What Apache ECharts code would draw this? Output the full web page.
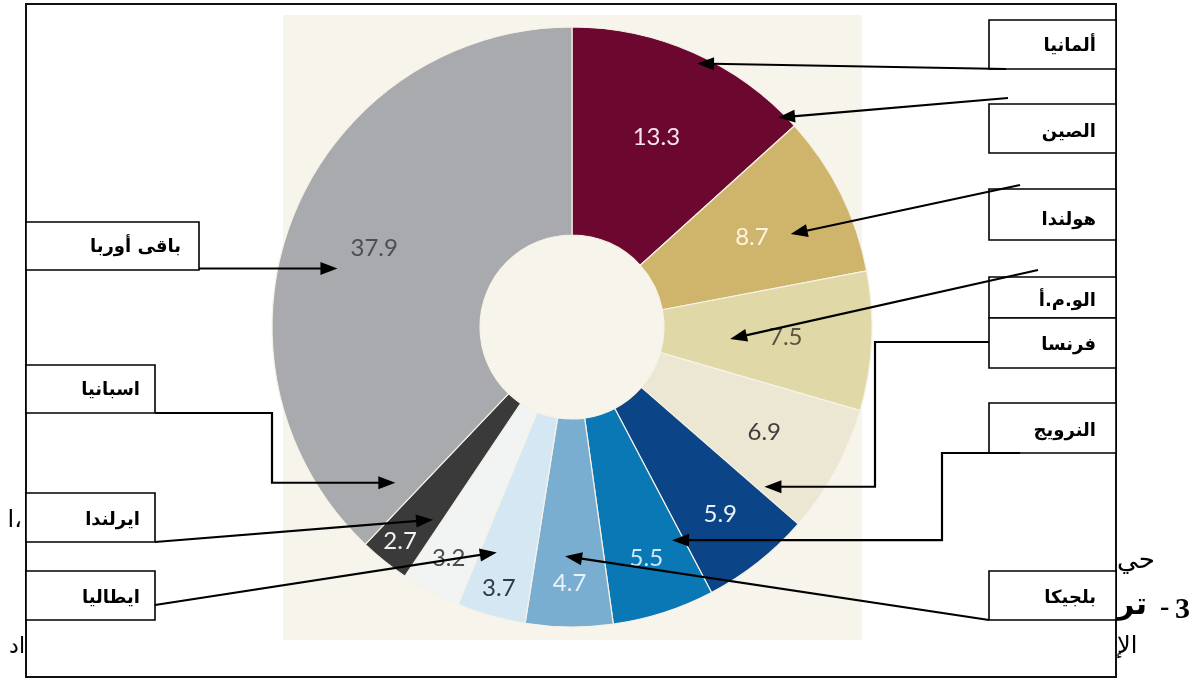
<!DOCTYPE html>
<html><head><meta charset="utf-8">
<script src="https://cdn.jsdelivr.net/npm/echarts@6/dist/echarts.min.js"></script>
<style>html,body{margin:0;padding:0;background:#fff}#c{width:1197px;height:680px}</style>
</head><body><div id="c"></div>
<script>
// ---------- DATA ----------
const sliceNames = ['ألمانيا','الصين','هولندا','الو.م.أ','فرنسا','النرويج','بلجيكا','ايطاليا','ايرلندا','اسبانيا','باقى أوربا'];
const sliceValues = [13.3, 8.7, 7.5, 6.9, 5.9, 5.5, 4.7, 3.7, 3.2, 2.7, 37.9];
const annoTexts = ['ألمانيا','الصين','هولندا','الو.م.أ','فرنسا','النرويج','بلجيكا','ايطاليا','ايرلندا','اسبانيا','باقى أوربا'];
const annoTargetSlice = [0, 0, 1, 2, 3, 5, 6, 7, 9, 10, 10];

// ---------- STYLE / LAYOUT ----------
const sliceColors = ['#6c0730','#cfb46c','#e0d9a7','#ebe7d3','#0b4587','#0a78b4','#79aed0','#d5e7f3','#f1f4f2','#3a3a3a','#a8aaad'];
const valueLabelColors = ['#f4e8ec','#fbf4e0','#55553f','#3f3f3f','#eef3fa','#cfe8f5','#e8f2fa','#2f3a45','#4a4a4a','#f2f2f2','#4b4e52'];
const PIE_CENTER = [572, 327];
const PIE_RADIUS = [92, 300];
const labelRadius = [208, 201, 214, 219, 239, 243, 256, 271, 262, 275, 213];
const annoAngleFrac = [0.53, 0.93, 0.61, 0.56, 0.946, 0.13, 0.57, 0.71, 0.2, 0.037, 0.443];
const annoRadiusFrac = [0.96, 0.97, 0.70, 0.32, 0.76, 0.69, 0.66, 0.70, 0.70, 0.69, 0.72];
// boxes: [x, y, w, h, textRightX, textY]
const annoBoxes = [
  [989, 20, 127, 49, 1096, 46],
  [989, 104, 127, 49, 1096, 132],
  [989, 189, 127, 51, 1096, 220],
  [989, 277, 127, 41, 1096, 301],
  [989, 318, 127, 50, 1096, 345],
  [989, 403, 127, 50, 1096, 431],
  [989, 571, 127, 49, 1096, 598],
  [26, 571, 129, 49, 140, 598],
  [26, 493, 129, 49, 140, 520],
  [26, 365, 129, 48, 140, 390],
  [26, 222, 173, 48, 181, 247]
];
const annoPaths = [
  [[1006, 69]],
  [[1008, 98]],
  [[1020, 185]],
  [[1038, 270]],
  [[989, 342], [875, 342], [875, 'tip']],
  [[1020, 453], [942, 453], [942, 'tip']],
  [[989, 620]],
  [[155, 605]],
  [[155, 542]],
  [[155, 413], [272, 413], [272, 'tip']],
  [[199, 'tip']]
];

const total = sliceValues.reduce((a, b) => a + b, 0);
function midAngle(i) {
  let acc = 0; for (let k = 0; k < i; k++) acc += sliceValues[k];
  return -Math.PI / 2 + (acc + sliceValues[i] / 2) / total * 2 * Math.PI;
}

const chart = echarts.init(document.getElementById('c'), null, {renderer: 'canvas'});
const pieData = sliceValues.map((v, i) => ({name: sliceNames[i], value: v,
  itemStyle: {color: sliceColors[i]}, label: {color: valueLabelColors[i]}}));

chart.setOption({
  animation: false,
  backgroundColor: '#ffffff',
  series: [{
    type: 'pie', center: PIE_CENTER, radius: PIE_RADIUS, startAngle: 90, clockwise: true,
    silent: true,
    label: {show: true, position: 'inside', formatter: '{c}', fontFamily: 'Lato', fontSize: 24, fontWeight: 'normal'},
    labelLine: {show: false},
    labelLayout: function (p) {
      const a = midAngle(p.dataIndex), r = labelRadius[p.dataIndex];
      return {x: PIE_CENTER[0] + r * Math.cos(a), y: PIE_CENTER[1] + r * Math.sin(a)};
    },
    itemStyle: {borderColor: '#f6f2e6', borderWidth: 1.2},
    data: pieData, z: 2
  }]
});

function sliceLayout(i) {
  try {
    const l = chart.getModel().getSeriesByIndex(0).getData().getItemLayout(i);
    if (l && l.r != null) return l;
  } catch (e) {}
  let acc = 0; for (let k = 0; k < i; k++) acc += sliceValues[k];
  const s = -Math.PI / 2 + acc / total * 2 * Math.PI;
  return {cx: PIE_CENTER[0], cy: PIE_CENTER[1], r0: PIE_RADIUS[0], r: PIE_RADIUS[1], startAngle: s, endAngle: s + sliceValues[i] / total * 2 * Math.PI};
}

const els = [];
els.push({type: 'rect', z: 0, shape: {x: 283, y: 15, width: 579, height: 625}, style: {fill: '#f7f4ec'}});
els.push({type: 'rect', z: 10, shape: {x: 26, y: 4, width: 1090, height: 673}, style: {fill: null, stroke: '#111', lineWidth: 2}});

annoBoxes.forEach((b, i) => {
  els.push({type: 'rect', z: 10, shape: {x: b[0], y: b[1], width: b[2], height: b[3]}, style: {fill: '#fff', stroke: '#000', lineWidth: 1.6}});
  els.push({type: 'text', z: 11, style: {text: annoTexts[i], x: b[4], y: b[5], font: 'bold 18px "DejaVu Sans"', fill: '#000', align: 'right', verticalAlign: 'middle', textAlign: 'right', textVerticalAlign: 'middle'}});
});

annoTexts.forEach((t, i) => {
  const L = sliceLayout(annoTargetSlice[i]);
  const a = L.startAngle + annoAngleFrac[i] * (L.endAngle - L.startAngle);
  const R = L.r0 + annoRadiusFrac[i] * (L.r - L.r0);
  const tip = [L.cx + R * Math.cos(a), L.cy + R * Math.sin(a)];
  const pts = annoPaths[i].map(p => [p[0], p[1] === 'tip' ? tip[1] : p[1]]);
  pts.push(tip);
  const from = pts[pts.length - 2];
  const dx = tip[0] - from[0], dy = tip[1] - from[1];
  const len = Math.hypot(dx, dy) || 1;
  const ux = dx / len, uy = dy / len;
  const HL = 17, HW = 6.5;
  const base = [tip[0] - ux * HL, tip[1] - uy * HL];
  const linePts = pts.slice(0, -1).concat([[base[0] + ux * 2, base[1] + uy * 2]]);
  els.push({type: 'polyline', z: 12, shape: {points: linePts}, style: {stroke: '#000', lineWidth: 2.2, fill: null}});
  els.push({type: 'polygon', z: 12, shape: {points: [tip, [base[0] - uy * HW, base[1] + ux * HW], [base[0] + uy * HW, base[1] - ux * HW]]}, style: {fill: '#000'}});
});

const stray = [
  ['ا،', 22, 521, 'normal 24px "DejaVu Sans"', 'right'],
  ['اد', 25, 647, 'normal 22px "DejaVu Sans"', 'right'],
  ['حي', 1117, 561, 'normal 26px "DejaVu Sans"', 'left'],
  ['تر', 1117, 606, 'bold 30px "DejaVu Sans"', 'left'],
  ['-', 1160, 608, 'bold 28px "Liberation Serif"', 'left'],
  ['3', 1175, 610, 'bold 30px "Liberation Serif"', 'left'],
  ['الإ', 1117, 647, 'normal 24px "DejaVu Sans"', 'left']
];
stray.forEach(s => els.push({type: 'text', z: 11, style: {text: s[0], x: s[1], y: s[2], font: s[3], fill: '#000', align: s[4], verticalAlign: 'middle', textAlign: s[4], textVerticalAlign: 'middle'}}));

chart.setOption({graphic: {elements: els}});
</script></body></html>
